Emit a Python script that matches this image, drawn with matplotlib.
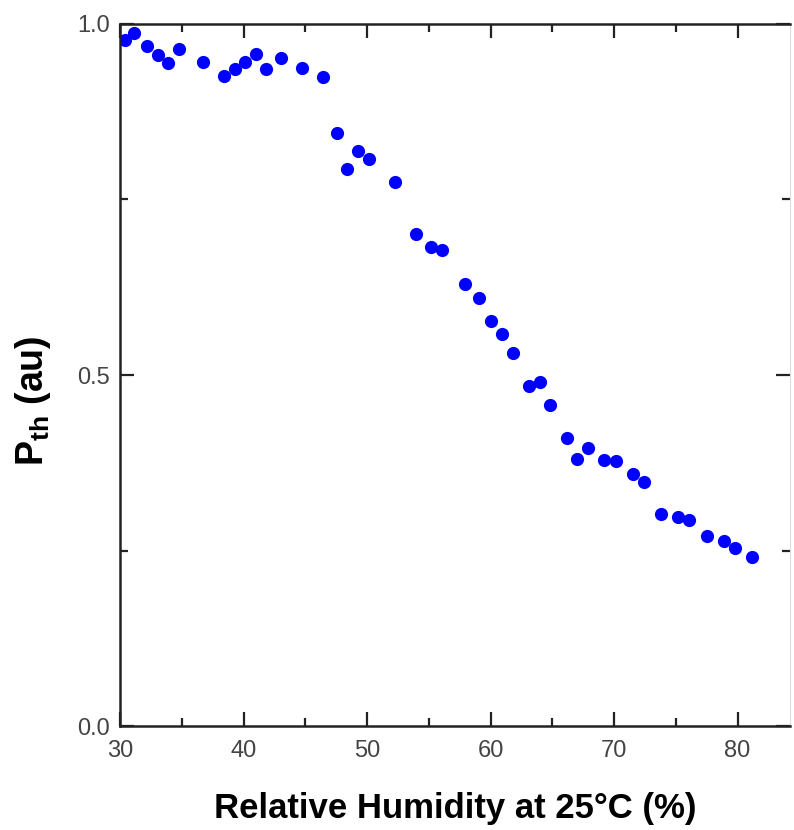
import numpy as np
import matplotlib
matplotlib.use('Agg')
import matplotlib.pyplot as plt
from matplotlib.ticker import MultipleLocator

# humidity (%) and normalised threshold power
humidity = [30.4, 31.1, 32.2, 33.1, 33.9, 34.8, 36.7, 38.4, 39.3, 40.1,
            41.0, 41.8, 43.0, 44.7, 46.4, 47.6, 48.4, 49.3, 50.2, 52.3,
            54.0, 55.2, 56.1, 57.9, 59.1, 60.0, 60.9, 61.8, 63.1, 64.0,
            64.8, 66.2, 67.0, 67.9, 69.2, 70.2, 71.5, 72.4, 73.8, 75.2,
            76.1, 77.5, 78.9, 79.8, 81.2]
pth = [0.977, 0.987, 0.968, 0.956, 0.945, 0.964, 0.946, 0.926, 0.936, 0.946,
       0.957, 0.936, 0.951, 0.938, 0.925, 0.845, 0.793, 0.819, 0.808, 0.775,
       0.701, 0.682, 0.678, 0.630, 0.609, 0.577, 0.559, 0.532, 0.485, 0.490,
       0.457, 0.410, 0.381, 0.396, 0.379, 0.377, 0.359, 0.347, 0.302, 0.298,
       0.293, 0.270, 0.264, 0.253, 0.241]

plt.rcParams['font.family'] = ['Liberation Sans', 'DejaVu Sans']
plt.rcParams['mathtext.fontset'] = 'custom'
plt.rcParams['mathtext.rm'] = 'Liberation Sans'
plt.rcParams['mathtext.bf'] = 'Liberation Sans:bold'

fig = plt.figure(figsize=(7.94, 8.30), dpi=100)
ax = fig.add_axes([120/794., 104/830., 670/794., 702/830.])

ax.plot(humidity, pth, 'o', color='#0000ff', markersize=9.5, markeredgewidth=0)

ax.set_xlim(30, 84.25)
ax.set_ylim(0, 1.0)
ax.xaxis.set_major_locator(MultipleLocator(10))
ax.xaxis.set_minor_locator(MultipleLocator(5))
ax.yaxis.set_major_locator(MultipleLocator(0.5))
ax.yaxis.set_minor_locator(MultipleLocator(0.25))
ax.yaxis.set_major_formatter(matplotlib.ticker.FormatStrFormatter('%.1f'))

for s in ['left', 'bottom', 'top']:
  ax.spines[s].set_linewidth(1.8)
  ax.spines[s].set_color('#222222')
ax.spines['right'].set_linewidth(0.8)
ax.spines['right'].set_color('#dddddd')

ax.tick_params(which='both', direction='in', top=True, right=True,
               colors='#222222', labelcolor='#444444', labelsize=17, width=1.6)
ax.tick_params(which='major', length=10, pad=7)
ax.tick_params(axis='x', which='major', pad=10)
ax.tick_params(which='minor', length=6)
ax.tick_params(axis='y', which='both', right=True, color='#bbbbbb')
ax.tick_params(axis='y', which='both', left=True, color='#222222')

ax.set_xlabel('Relative Humidity at 25°C (%)', fontsize=25,
              fontweight='bold', labelpad=22)
ax.set_ylabel(r'$\mathbf{P_{th}}$ (au)', fontsize=27, fontweight='bold')
ax.yaxis.set_label_coords(-0.10, 0.464)

plt.savefig('out.png', dpi=100)
